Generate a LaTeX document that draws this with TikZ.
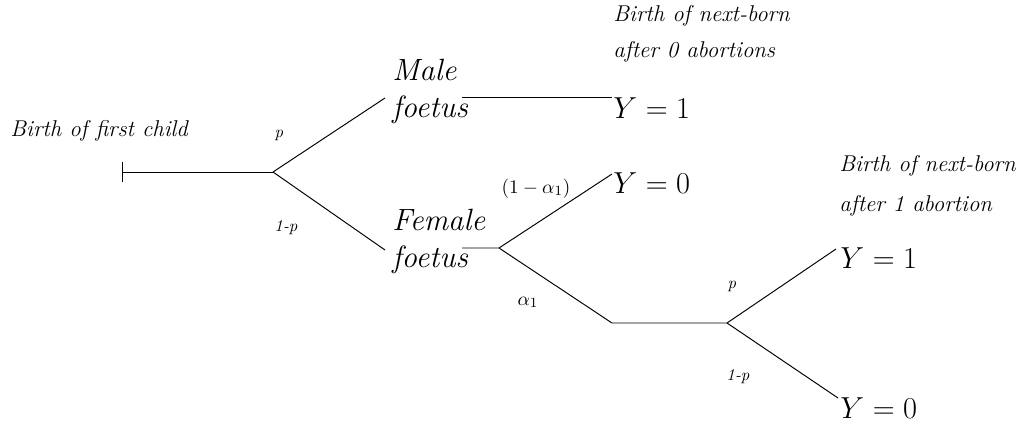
\documentclass[tikz,border=0pt]{standalone}
\usetikzlibrary{arrows.meta}
\begin{document}
\begin{tikzpicture}[x=0.02cm, y=-0.02cm, line width=0.55pt,
    every node/.style={inner sep=0pt, anchor=base west},
    note/.style={font=\fontsize{13}{15}\selectfont\itshape},
    prob/.style={font=\fontsize{9.5}{11}\selectfont\itshape, anchor=base},
    sex/.style={font=\fontsize{17.5}{20}\selectfont\itshape},
    outc/.style={font=\fontsize{19}{21}\selectfont}]
  \useasboundingbox (0,0) rectangle (1024,423);
  % Points of the tree
  \coordinate (start) at (122,172);
  \coordinate (root) at (273,172);
  \coordinate (maleIn) at (385,98);
  \coordinate (femIn) at (385,250);
  \coordinate (maleOut) at (462,97);
  \coordinate (femOut) at (462,248);
  \coordinate (abort) at (499,248);
  \coordinate (keepEnd) at (612,174);
  \coordinate (bend) at (612,323);
  \coordinate (second) at (727,323);
  \coordinate (boyEnd) at (836,249);
  \coordinate (girlEnd) at (838,398);
  \coordinate (firstEnd) at (612,97);

  % Texts
  \node[note] (first) at (10,136) {Birth of first child};
  \node[note] (next0) at (613,21) {Birth of next-born};
  \node[note] (after0) at (613,57) {after 0 abortions};
  \node[note] (next1) at (839,171) {Birth of next-born};
  \node[note] (after1) at (839,211) {after 1 abortion};

  \node[sex] (male) at (392,80) {Male};
  \node[sex] (malef) at (392,117) {foetus};
  \node[sex] (female) at (392,230) {Female};
  \node[sex] (femalef) at (392,267) {foetus};

  \node[outc] (y1a) at (613,118) {$Y=1$};
  \node[outc] (y0a) at (613,193) {$Y=0$};
  \node[outc] (y1b) at (840,268) {$Y=1$};
  \node[outc] (y0b) at (840,418) {$Y=0$};

  % Probabilities
  \node[prob] (pa) at (279,137) {p};
  \node[prob] (qa) at (286,231) {1-p};
  \node[prob] (pb) at (732,288) {p};
  \node[prob] (qb) at (738,380) {1-p};
  \node[prob, font=\fontsize{11}{13}\selectfont] (ka) at (536,193) {$(1-\alpha_1)$};
  \node[prob, font=\fontsize{11}{13}\selectfont] (ab) at (528,305) {$\alpha_1$};

  % Branches
  \draw[{Bar[width=11pt]}-] (start) -- (root);
  \draw (root) -- (maleIn);
  \draw (root) -- (femIn);
  \draw (maleOut) -- (firstEnd);
  \draw (femOut) -- (abort) -- (keepEnd);
  \draw (abort) -- (bend) -- (second);
  \draw (second) -- (boyEnd);
  \draw (second) -- (girlEnd);
\end{tikzpicture}
\end{document}
